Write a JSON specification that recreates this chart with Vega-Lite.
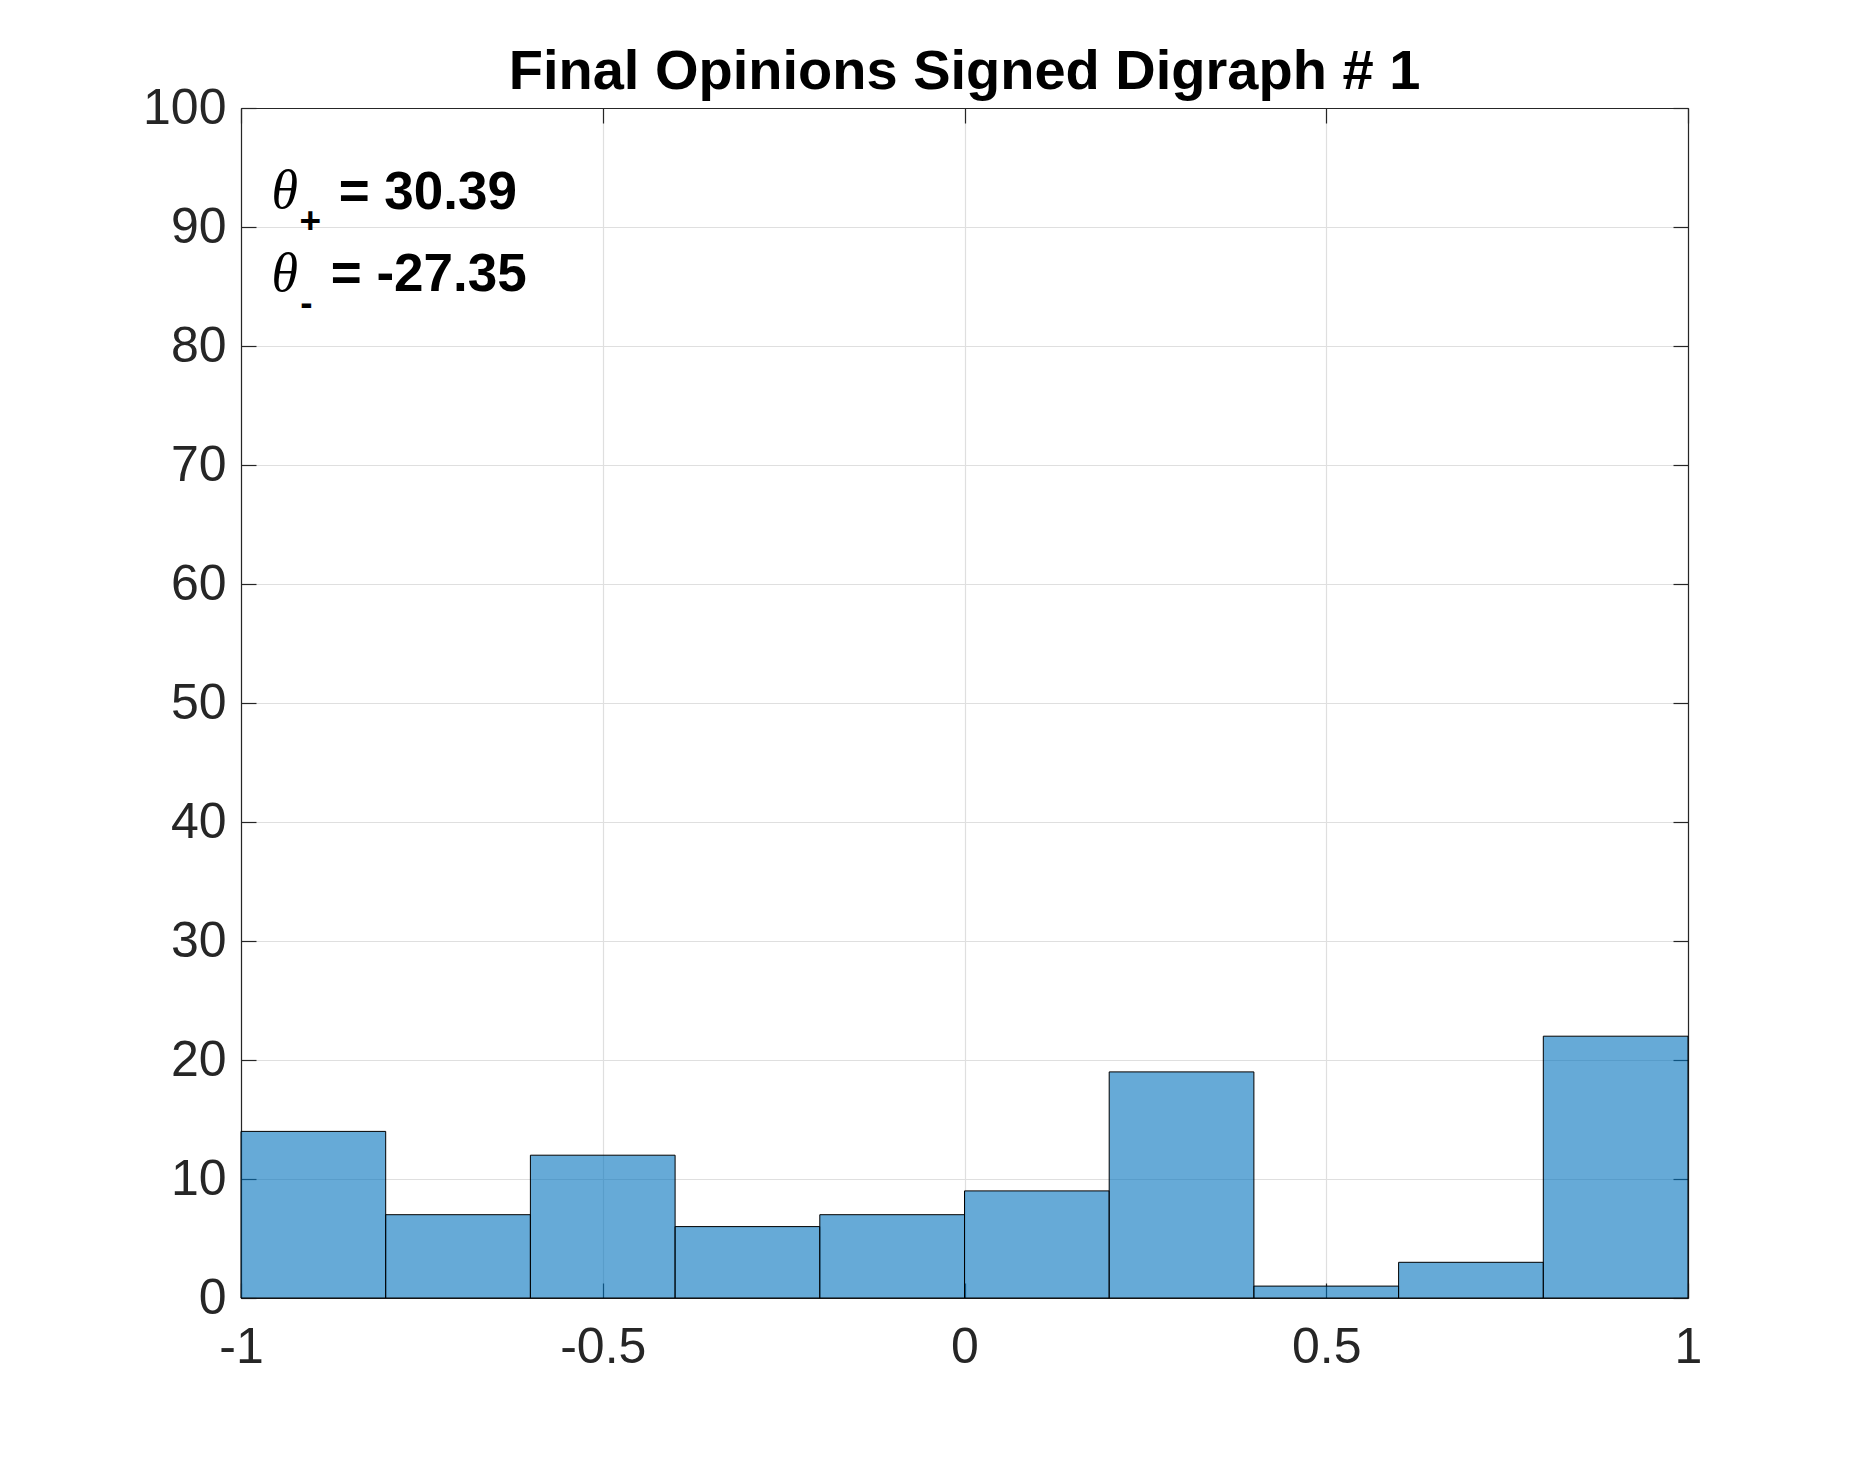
{
  "$schema": "https://vega.github.io/schema/vega-lite/v6.json",
  "width": 1447,
  "height": 1190,
  "autosize": "none",
  "padding": {"left": 241, "top": 108, "right": 177, "bottom": 160},
  "background": "white",
  "title": {
    "text": "Final Opinions Signed Digraph # 1",
    "font": "Liberation Sans",
    "fontSize": 56,
    "fontWeight": "bold",
    "color": "black",
    "anchor": "middle",
    "baseline": "alphabetic",
    "offset": -62
  },
  "config": {"view": {"stroke": null}},
  "datasets": {
    "bins": [
      {"lo": -1.0, "hi": -0.8, "count": 14},
      {"lo": -0.8, "hi": -0.6, "count": 7},
      {"lo": -0.6, "hi": -0.4, "count": 12},
      {"lo": -0.4, "hi": -0.2, "count": 6},
      {"lo": -0.2, "hi": 0.0, "count": 7},
      {"lo": 0.0, "hi": 0.2, "count": 9},
      {"lo": 0.2, "hi": 0.4, "count": 19},
      {"lo": 0.4, "hi": 0.6, "count": 1},
      {"lo": 0.6, "hi": 0.8, "count": 3},
      {"lo": 0.8, "hi": 1.0, "count": 22}
    ],
    "theta": [
      {"x": -0.958, "y": 91.6, "t": "θ"},
      {"x": -0.958, "y": 84.6, "t": "θ"}
    ],
    "subs": [
      {"x": -0.919, "y": 89.5, "t": "+"},
      {"x": -0.918, "y": 82.6, "t": "-"}
    ],
    "mains": [
      {"x": -0.865, "y": 91.5, "t": "= 30.39"},
      {"x": -0.876, "y": 84.6, "t": "= -27.35"}
    ]
  },
  "layer": [
    {
      "data": {"name": "bins"},
      "mark": {"type": "rect", "fill": "#0072BD", "fillOpacity": 0.6, "stroke": "black", "strokeWidth": 1},
      "encoding": {
        "x": {
          "field": "lo", "type": "quantitative",
          "scale": {"domain": [-1, 1], "nice": false, "zero": false},
          "axis": {
            "orient": "bottom", "values": [-1, -0.5, 0, 0.5, 1],
            "labelExpr": "'' + datum.value",
            "labelFont": "Liberation Sans", "labelFontSize": 50, "labelColor": "#262626",
            "labelPadding": 39, "labelFlush": false, "labelOverlap": false,
            "tickSize": -15, "tickColor": "#262626", "tickWidth": 1.2,
            "domainColor": "#262626", "domainWidth": 1.2,
            "grid": true, "gridColor": "#DFDFDF", "gridWidth": 1.2,
            "title": null
          }
        },
        "x2": {"field": "hi"},
        "y": {
          "field": "count", "type": "quantitative",
          "scale": {"domain": [0, 100], "nice": false},
          "axis": {
            "orient": "left", "values": [0, 10, 20, 30, 40, 50, 60, 70, 80, 90, 100],
            "labelExpr": "'' + datum.value",
            "labelFont": "Liberation Sans", "labelFontSize": 50, "labelColor": "#262626",
            "labelPadding": 30, "labelFlush": false, "labelOverlap": false,
            "tickSize": -15, "tickColor": "#262626", "tickWidth": 1.2,
            "domainColor": "#262626", "domainWidth": 1.2,
            "grid": true, "gridColor": "#DFDFDF", "gridWidth": 1.2,
            "title": null
          }
        },
        "y2": {"datum": 0}
      }
    },
    {
      "data": {"values": [{"a": 0}]},
      "mark": {"type": "point", "opacity": 0},
      "encoding": {
        "x": {
          "datum": 0, "type": "quantitative",
          "axis": {
            "orient": "top", "values": [-1, -0.5, 0, 0.5, 1], "labels": false,
            "tickSize": -15, "tickColor": "#262626", "tickWidth": 1.2,
            "domainColor": "#262626", "domainWidth": 1.2, "grid": false, "title": null
          }
        },
        "y": {
          "datum": 0, "type": "quantitative",
          "axis": {
            "orient": "right", "values": [0, 10, 20, 30, 40, 50, 60, 70, 80, 90, 100], "labels": false,
            "tickSize": -15, "tickColor": "#262626", "tickWidth": 1.2,
            "domainColor": "#262626", "domainWidth": 1.2, "grid": false, "title": null
          }
        }
      }
    },
    {
      "data": {"name": "theta"},
      "mark": {"type": "text", "font": "Liberation Serif", "fontStyle": "italic", "fontSize": 54, "align": "left", "baseline": "alphabetic", "color": "black"},
      "encoding": {
        "x": {"field": "x", "type": "quantitative", "axis": null},
        "y": {"field": "y", "type": "quantitative", "axis": null},
        "text": {"field": "t"}
      }
    },
    {
      "data": {"name": "subs"},
      "mark": {"type": "text", "font": "Liberation Sans", "fontWeight": "bold", "fontSize": 37, "align": "left", "baseline": "alphabetic", "color": "black"},
      "encoding": {
        "x": {"field": "x", "type": "quantitative", "axis": null},
        "y": {"field": "y", "type": "quantitative", "axis": null},
        "text": {"field": "t"}
      }
    },
    {
      "data": {"name": "mains"},
      "mark": {"type": "text", "font": "Liberation Sans", "fontWeight": "bold", "fontSize": 53, "align": "left", "baseline": "alphabetic", "color": "black"},
      "encoding": {
        "x": {"field": "x", "type": "quantitative", "axis": null},
        "y": {"field": "y", "type": "quantitative", "axis": null},
        "text": {"field": "t"}
      }
    }
  ],
  "resolve": {"axis": {"x": "independent", "y": "independent"}}
}
